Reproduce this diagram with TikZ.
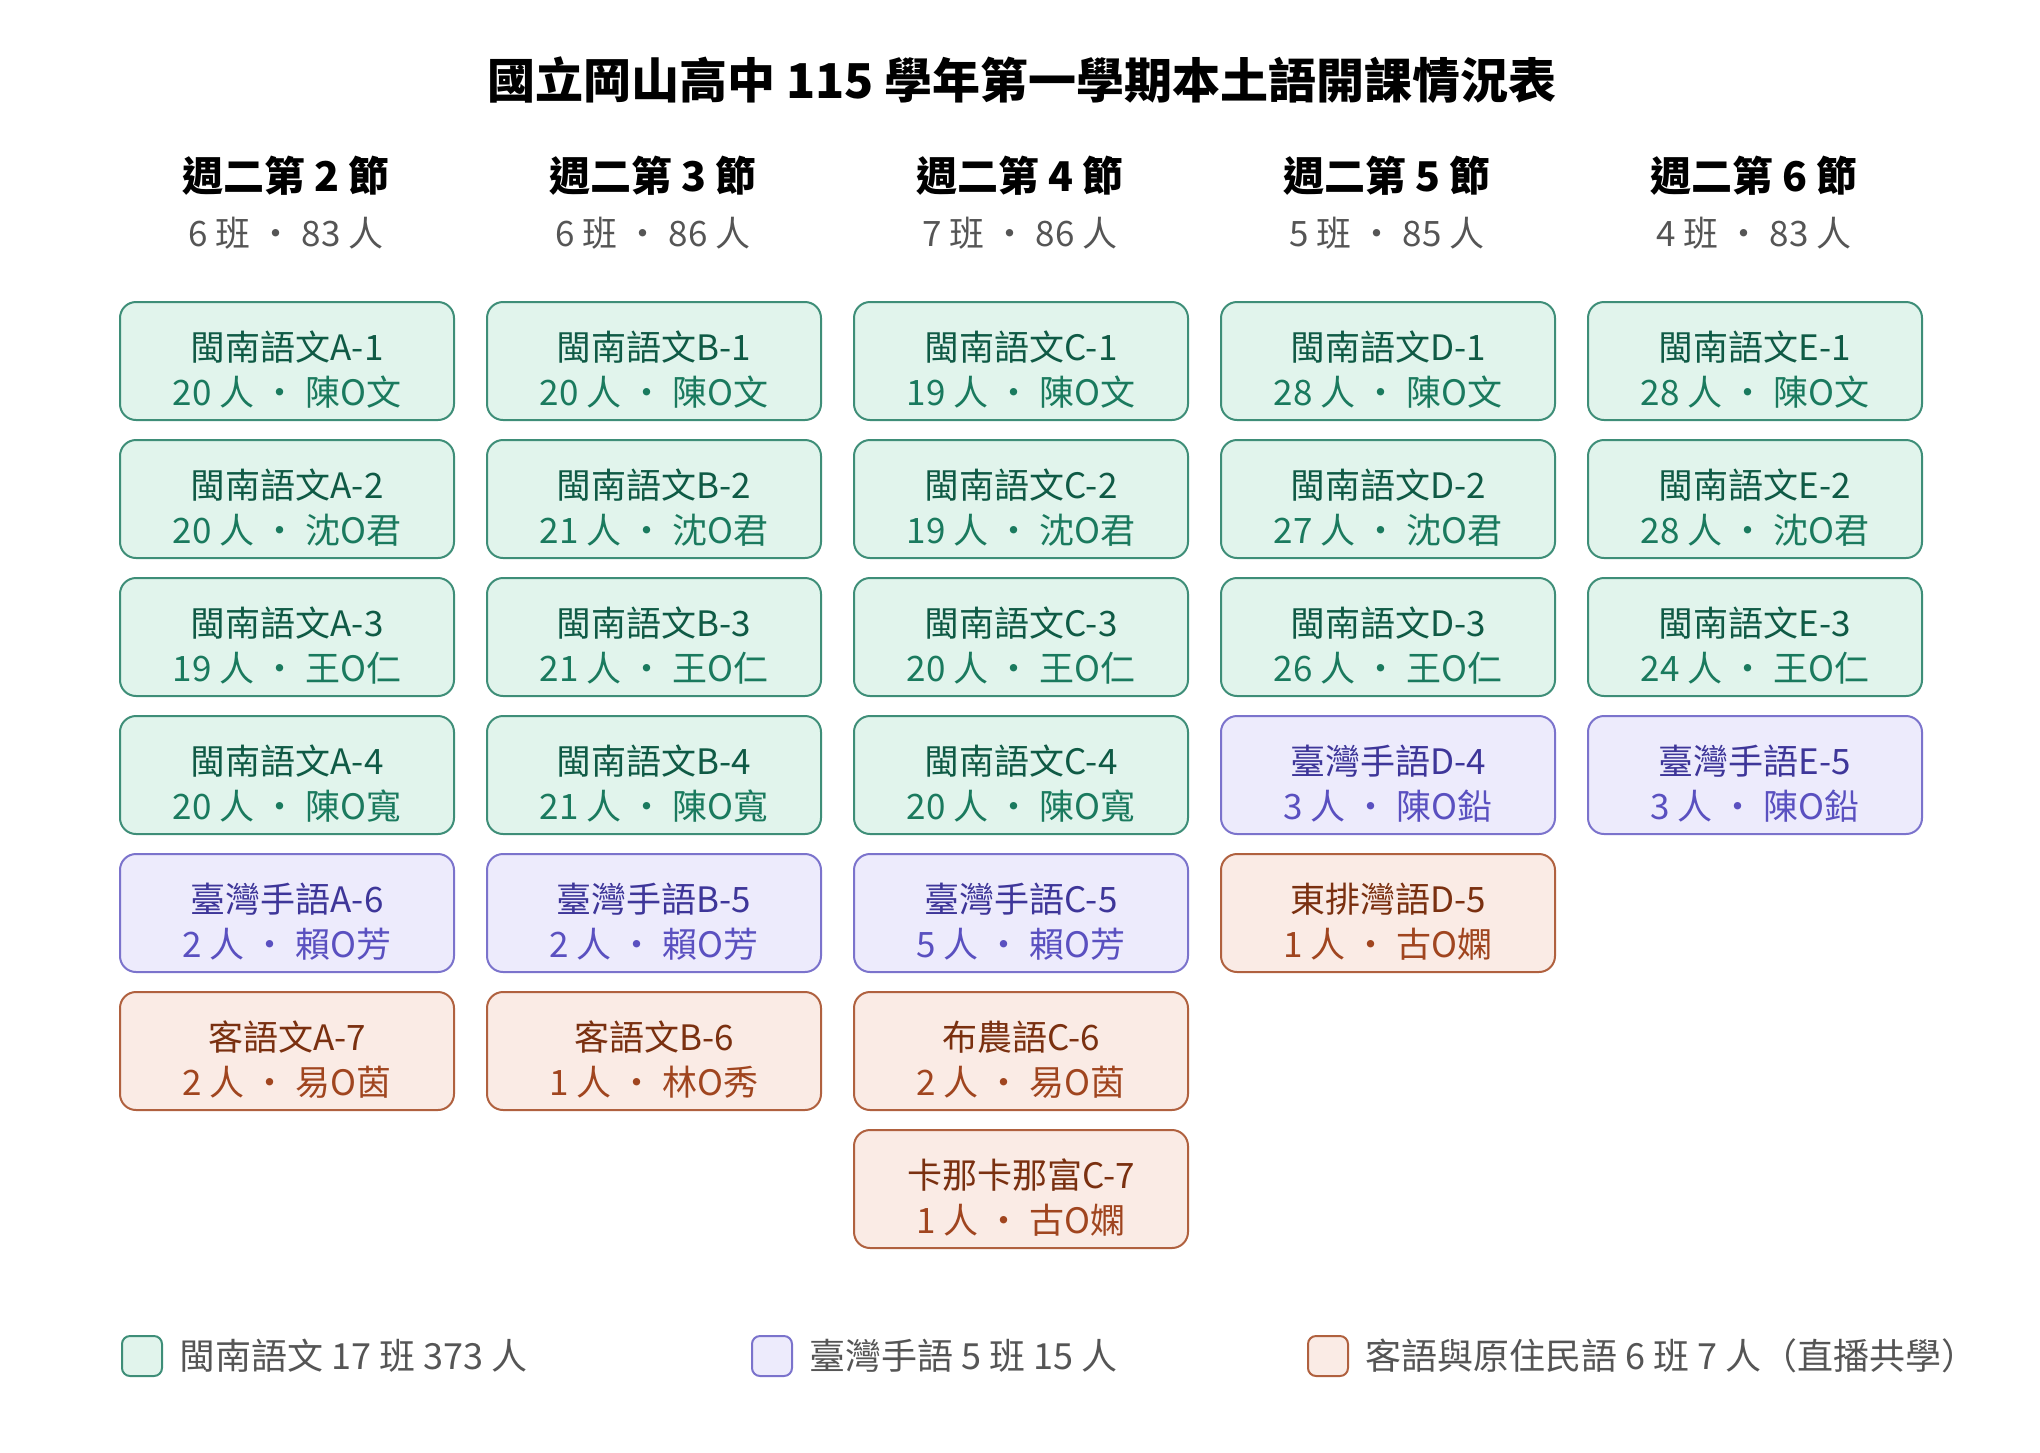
\documentclass[tikz,border=0pt]{standalone}
\usepackage{fontspec}
\setmainfont{Noto Sans CJK TC}
\usetikzlibrary{positioning}
\definecolor{mnfill}{HTML}{E1F4EC}
\definecolor{mnline}{HTML}{3E8E78}
\definecolor{mntext}{HTML}{0F5A45}
\definecolor{mnsub}{HTML}{1A7A5E}
\definecolor{tsfill}{HTML}{EDEBFC}
\definecolor{tsline}{HTML}{7B73CC}
\definecolor{tstext}{HTML}{3E3699}
\definecolor{tssub}{HTML}{5A50C0}
\definecolor{hkfill}{HTML}{FAEBE5}
\definecolor{hkline}{HTML}{B0613F}
\definecolor{hktext}{HTML}{7A3010}
\definecolor{hksub}{HTML}{A0451F}
\definecolor{graytext}{HTML}{555555}
\tikzset{
	cls/.style={draw,rounded corners=16pt,line width=2pt,minimum width=334pt,minimum height=118pt,anchor=north west},
	mn/.style={cls,fill=mnfill,draw=mnline},
	ts/.style={cls,fill=tsfill,draw=tsline},
	hk/.style={cls,fill=hkfill,draw=hkline},
	head/.style={font=\fontsize{41}{48}\selectfont\bfseries},
	subhead/.style={font=\fontsize{35}{40}\selectfont,text=graytext},
	leg/.style={font=\fontsize{36}{42}\selectfont,text=graytext,anchor=west},
	legbox/.style={draw,rounded corners=8pt,line width=2pt,minimum size=40pt,anchor=west}
}
% box with two lines
\newcommand{\klass}[6]{%
  \node[#1] (#2) at (#3) {};
  \node[font=\fontsize{35}{40}\selectfont,text=#1text] at ([yshift=-46pt]#2.north) {#4};
  \node[font=\fontsize{35}{40}\selectfont,text=#1sub] at ([yshift=-91pt]#2.north) {#5~人 ・ #6};
}
\begin{document}
\begin{tikzpicture}[x=1pt,y=-1pt]
	\useasboundingbox (0,0) rectangle (2040,1452);
	\node[font=\fontsize{48}{56}\selectfont\bfseries] (title) at (1022,80) {國立岡山高中 115 學年第一學期本土語開課情況表};
	% column headers
	\foreach \c/\x/\n/\p in {2/286/6/83,3/653/6/86,4/1020/7/86,5/1387/5/85,6/1754/4/83}{
		\node[head] (h\c) at (\x,176) {週二第 \c\ 節};
		\node[subhead] (s\c) at (\x,233) {\n\ 班 ・ \p\ 人};
	}
	% column A
	\klass{mn}{a1}{119,301}{閩南語文A-1}{20}{陳O文}
	\klass{mn}{a2}{119,439}{閩南語文A-2}{20}{沈O君}
	\klass{mn}{a3}{119,577}{閩南語文A-3}{19}{王O仁}
	\klass{mn}{a4}{119,715}{閩南語文A-4}{20}{陳O寬}
	\klass{ts}{a6}{119,853}{臺灣手語A-6}{2}{賴O芳}
	\klass{hk}{a7}{119,991}{客語文A-7}{2}{易O茵}
	% column B
	\klass{mn}{b1}{486,301}{閩南語文B-1}{20}{陳O文}
	\klass{mn}{b2}{486,439}{閩南語文B-2}{21}{沈O君}
	\klass{mn}{b3}{486,577}{閩南語文B-3}{21}{王O仁}
	\klass{mn}{b4}{486,715}{閩南語文B-4}{21}{陳O寬}
	\klass{ts}{b5}{486,853}{臺灣手語B-5}{2}{賴O芳}
	\klass{hk}{b6}{486,991}{客語文B-6}{1}{林O秀}
	% column C
	\klass{mn}{c1}{853,301}{閩南語文C-1}{19}{陳O文}
	\klass{mn}{c2}{853,439}{閩南語文C-2}{19}{沈O君}
	\klass{mn}{c3}{853,577}{閩南語文C-3}{20}{王O仁}
	\klass{mn}{c4}{853,715}{閩南語文C-4}{20}{陳O寬}
	\klass{ts}{c5}{853,853}{臺灣手語C-5}{5}{賴O芳}
	\klass{hk}{c6}{853,991}{布農語C-6}{2}{易O茵}
	\klass{hk}{c7}{853,1129}{卡那卡那富C-7}{1}{古O嫻}
	% column D
	\klass{mn}{d1}{1220,301}{閩南語文D-1}{28}{陳O文}
	\klass{mn}{d2}{1220,439}{閩南語文D-2}{27}{沈O君}
	\klass{mn}{d3}{1220,577}{閩南語文D-3}{26}{王O仁}
	\klass{ts}{d4}{1220,715}{臺灣手語D-4}{3}{陳O鉛}
	\klass{hk}{d5}{1220,853}{東排灣語D-5}{1}{古O嫻}
	% column E
	\klass{mn}{e1}{1587,301}{閩南語文E-1}{28}{陳O文}
	\klass{mn}{e2}{1587,439}{閩南語文E-2}{28}{沈O君}
	\klass{mn}{e3}{1587,577}{閩南語文E-3}{24}{王O仁}
	\klass{ts}{e5}{1587,715}{臺灣手語E-5}{3}{陳O鉛}
	% legend
	\node[legbox,fill=mnfill,draw=mnline] (l1) at (121,1356) {};
	\node[leg] at (176,1356) {閩南語文 17 班 373 人};
	\node[legbox,fill=tsfill,draw=tsline] (l2) at (751,1356) {};
	\node[leg] at (806,1356) {臺灣手語 5 班 15 人};
	\node[legbox,fill=hkfill,draw=hkline] (l3) at (1307,1356) {};
	\node[leg] at (1362,1356) {客語與原住民語 6 班 7 人（直播共學）};
\end{tikzpicture}
\end{document}
